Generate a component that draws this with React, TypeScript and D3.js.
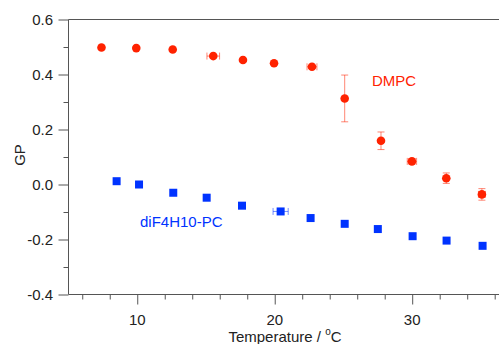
import React, { useRef, useEffect } from "react";
import * as d3 from "d3";

// DMPC (red circles)
const dmpcT = [7.4, 9.93, 12.58, 15.53, 17.69, 19.95, 22.71, 25.09, 27.73, 29.98, 32.48, 35.07];
const dmpcGP = [0.498, 0.496, 0.491, 0.467, 0.453, 0.441, 0.428, 0.313, 0.159, 0.084, 0.023, -0.036];
const dmpcTErr = [0, 0, 0, 0.46, 0.1, 0, 0.36, 0, 0, 0.34, 0, 0.25];
const dmpcGPErr = [0, 0, 0, 0, 0, 0, 0.005, 0.085, 0.032, 0.01, 0.019, 0.021];

// diF4H10-PC (blue squares)
const fT = [8.5, 10.13, 12.62, 15.05, 17.62, 20.43, 22.61, 25.09, 27.5, 30.03, 32.5, 35.12];
const fGP = [0.012, 0.0, -0.03, -0.048, -0.077, -0.098, -0.122, -0.143, -0.162, -0.188, -0.204, -0.223];
const fTErr = [0, 0, 0, 0, 0, 0.55, 0, 0, 0, 0, 0, 0];
const fGPErr = [0, 0, 0, 0, 0, 0, 0, 0, 0, 0.008, 0, 0];

const xTicks = d3.range(6, 37, 2);
const xLabels = [10, 20, 30];
const yTicks = d3.range(-4, 7).map((d) => d / 10);
const yLabels = [-0.4, -0.2, 0.0, 0.2, 0.4, 0.6];

const RED = "#ff2200";
const BLUE = "#0033ff";

const Chart = () => {
    const ref = useRef<SVGSVGElement | null>(null);

    useEffect(() => {
        const svg = d3.select(ref.current);
        svg.selectAll("*").remove();
        const font = "'Liberation Sans', Arial, sans-serif";
        const fs = 15;

        const x = d3.scaleLinear().domain([5, 36.35]).range([68.5, 499.5]);
        const y = d3.scaleLinear().domain([-0.4, 0.6]).range([294.5, 19.5]);

        // Frame line on top
        svg.append("line")
            .attr("x1", x(5)).attr("x2", 499)
            .attr("y1", y(0.6)).attr("y2", y(0.6))
            .attr("stroke", "#555");

        // X axis
        const xa = svg.append("g")
            .attr("transform", `translate(0,${y(-0.4)})`)
            .call(
                d3.axisBottom(x)
                    .tickValues(xTicks)
                    .tickSize(5)
                    .tickFormat(() => "")
            );
        xa.select(".domain").attr("stroke", "#555").attr("d", `M${x(5)},0H499`);
        xa.selectAll(".tick line")
            .attr("stroke", "#555")
            .attr("y2", (d: any) => (xLabels.includes(d) ? 10 : 5));
        xLabels.forEach((v) => {
            svg.append("text")
                .attr("x", x(v))
                .attr("y", 325)
                .attr("text-anchor", "middle")
                .attr("font-family", font)
                .attr("font-size", fs)
                .attr("fill", "#222")
                .text(v);
        });

        // Y axis
        const ya = svg.append("g")
            .attr("transform", `translate(${x(5)},0)`)
            .call(
                d3.axisLeft(y)
                    .tickValues(yTicks)
                    .tickSize(5)
                    .tickFormat(() => "")
            );
        ya.select(".domain").attr("stroke", "#555").attr("d", `M0,${y(0.6)}V${y(-0.4)}`);
        ya.selectAll(".tick line")
            .attr("stroke", "#555")
            .attr("x2", (d: any) =>
                yLabels.some((l) => Math.abs(l - d) < 1e-9) ? -10 : -5
            );
        yLabels.forEach((v) => {
            svg.append("text")
                .attr("x", 53)
                .attr("y", y(v))
                .attr("dy", "0.36em")
                .attr("text-anchor", "end")
                .attr("font-family", font)
                .attr("font-size", fs)
                .attr("fill", "#222")
                .text(d3.format(".1f")(v).replace("−", "-"));
        });

        // Axis titles
        const xt = svg.append("text")
            .attr("x", 285)
            .attr("y", 342)
            .attr("text-anchor", "middle")
            .attr("font-family", font)
            .attr("font-size", fs)
            .attr("fill", "#222");
        xt.append("tspan").text("Temperature / ");
        xt.append("tspan").attr("font-size", 10).attr("dy", -7).text("o");
        xt.append("tspan").attr("dy", 7).text("C");

        svg.append("text")
            .attr("transform", `translate(25,155) rotate(-90)`)
            .attr("text-anchor", "middle")
            .attr("font-family", font)
            .attr("font-size", fs)
            .attr("fill", "#222")
            .text("GP");

        const drawErr = (
            T: number[], G: number[], TE: number[], GE: number[], color: string
        ) => {
            const g = svg.append("g").attr("stroke", color).attr("stroke-opacity", 0.55).attr("stroke-width", 1);
            T.forEach((t, i) => {
                const cx = x(t), cy = y(G[i]);
                if (GE[i] > 0) {
                    const y1 = y(G[i] + GE[i]), y2 = y(G[i] - GE[i]);
                    g.append("line").attr("x1", cx).attr("x2", cx).attr("y1", y1).attr("y2", y2);
                    g.append("line").attr("x1", cx - 3.5).attr("x2", cx + 3.5).attr("y1", y1).attr("y2", y1);
                    g.append("line").attr("x1", cx - 3.5).attr("x2", cx + 3.5).attr("y1", y2).attr("y2", y2);
                }
                if (TE[i] > 0) {
                    const x1 = x(t - TE[i]), x2 = x(t + TE[i]);
                    g.append("line").attr("x1", x1).attr("x2", x2).attr("y1", cy).attr("y2", cy);
                    g.append("line").attr("x1", x1).attr("x2", x1).attr("y1", cy - 3.5).attr("y2", cy + 3.5);
                    g.append("line").attr("x1", x2).attr("x2", x2).attr("y1", cy - 3.5).attr("y2", cy + 3.5);
                }
            });
        };

        drawErr(dmpcT, dmpcGP, dmpcTErr, dmpcGPErr, RED);
        drawErr(fT, fGP, fTErr, fGPErr, BLUE);

        svg.append("g")
            .selectAll("circle")
            .data(dmpcT)
            .enter()
            .append("circle")
            .attr("cx", (d) => x(d))
            .attr("cy", (_d, i) => y(dmpcGP[i]))
            .attr("r", 4.3)
            .attr("fill", RED);

        svg.append("g")
            .selectAll("rect")
            .data(fT)
            .enter()
            .append("rect")
            .attr("x", (d) => x(d) - 4)
            .attr("y", (_d, i) => y(fGP[i]) - 4)
            .attr("width", 8)
            .attr("height", 8)
            .attr("fill", BLUE);

        // Series labels
        svg.append("text")
            .attr("x", 372)
            .attr("y", 86)
            .attr("font-family", font)
            .attr("font-size", fs)
            .attr("fill", RED)
            .text("DMPC");
        svg.append("text")
            .attr("x", 140)
            .attr("y", 227)
            .attr("font-family", font)
            .attr("font-size", fs)
            .attr("fill", BLUE)
            .text("diF4H10-PC");
    }, []);

    return (
        <svg
            ref={ref}
            width="499"
            height="344"
            viewBox="0 0 499 344"
            style={{ position: "absolute", left: 0, top: 0, background: "#fff" }}
        />
    );
};

export default function App() {
    return <Chart />;
}
